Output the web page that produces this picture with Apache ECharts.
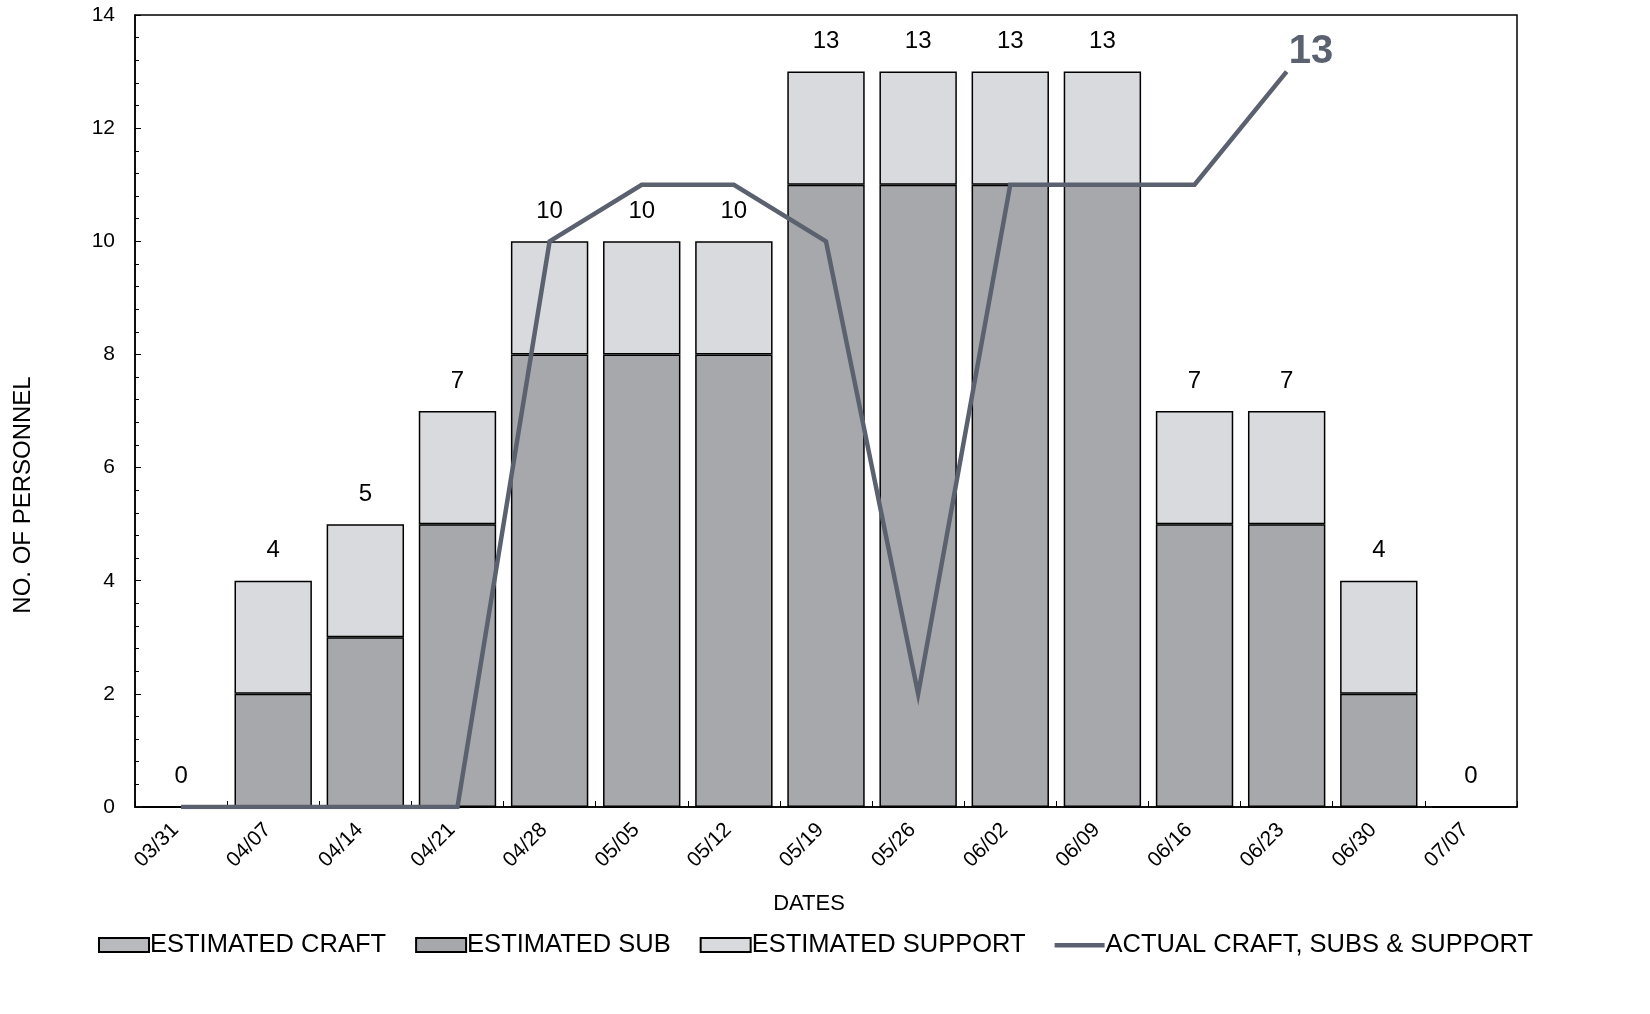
<!DOCTYPE html>
<html>
<head>
<meta charset="utf-8">
<script src="https://cdn.jsdelivr.net/npm/echarts@6/dist/echarts.min.js"></script>
<style>html,body{margin:0;padding:0;background:#fff;}#c{width:1650px;height:1014px;}</style>
</head>
<body>
<div id="c"></div>
<script>
const dates = ['03/31','04/07','04/14','04/21','04/28','05/05','05/12','05/19','05/26','06/02','06/09','06/16','06/23','06/30','07/07'];
const estCraft = [0,0,0,0,0,0,0,0,0,0,0,0,0,0,0];
const estSub = [0,2,3,5,8,8,8,11,11,11,11,5,5,2,0];
const estSupport = [0,2,2,2,2,2,2,2,2,2,2,2,2,2,0];
const actual = [0,0,0,0,10,11,11,10,2,11,11,11,13,null,null];
const yTicks = [0,2,4,6,8,10,12,14];

const totals = dates.map((d,i)=>estCraft[i]+estSub[i]+estSupport[i]);
const FONT = 'Liberation Sans, Arial, sans-serif';
const LINE_COLOR = '#5b616e';

const chart = echarts.init(document.getElementById('c'));
chart.setOption({
  backgroundColor: '#ffffff',
  animation: false,
  textStyle: {fontFamily: FONT, color: '#000'},
  grid: {left: 135, right: 133, top: 15, bottom: 207, show: true, borderColor: '#000', borderWidth: 1.5, backgroundColor: 'transparent'},
  legend: {
    bottom: 51, left: 93, itemWidth: 50, itemHeight: 14, itemGap: 29,
    textStyle: {fontSize: 25.5, fontFamily: FONT, color: '#000', padding: [0,0,0,-4]},
    data: [
      {name: 'ESTIMATED CRAFT', icon: 'rect'},
      {name: 'ESTIMATED SUB', icon: 'rect'},
      {name: 'ESTIMATED SUPPORT', icon: 'rect'},
      {name: 'ACTUAL CRAFT, SUBS & SUPPORT', icon: 'path://M0,0 M0,5 L50,5 L50,9.5 L0,9.5 Z M50,14', itemStyle: {borderWidth: 0}}
    ]
  },
  xAxis: {
    type: 'category', data: dates,
    name: 'DATES', nameLocation: 'middle', nameGap: 86,
    nameTextStyle: {fontSize: 22, fontFamily: FONT, color: '#000', padding: [0, 34, 0, 0]},
    axisLine: {lineStyle: {color: '#000', width: 1.5}},
    axisTick: {show: true, inside: true, length: 6, lineStyle: {color: '#000'}},
    axisLabel: {rotate: 45, fontSize: 21, color: '#000', margin: 14, fontFamily: FONT, padding: [0, 8, 0, 0]},
    splitLine: {show: false}
  },
  yAxis: {
    type: 'value', min: 0, max: 14, interval: 2,
    name: 'NO. OF PERSONNEL', nameLocation: 'middle', nameGap: 100,
    nameTextStyle: {fontSize: 24, fontFamily: FONT, color: '#000', padding: [0, 168, 0, 0]},
    axisLine: {show: true, lineStyle: {color: '#000', width: 1.5}},
    axisTick: {show: true, inside: true, length: 6, lineStyle: {color: '#000'}},
    minorTick: {show: true, splitNumber: 5, length: 4, lineStyle: {color: '#000'}},
    axisLabel: {fontSize: 21, color: '#000', margin: 20, fontFamily: FONT,
      formatter: v => yTicks.includes(v) ? String(v) : ''},
    splitLine: {show: false}
  },
  series: [
    {name: 'ESTIMATED CRAFT', type: 'bar', stack: 'est', data: estCraft, barCategoryGap: '16%',
      itemStyle: {color: '#b9babd', borderColor: '#000', borderWidth: 1.5}},
    {name: 'ESTIMATED SUB', type: 'bar', stack: 'est', data: estSub, barCategoryGap: '16%',
      itemStyle: {color: '#a7a8ab', borderColor: '#000', borderWidth: 1.5}},
    {name: 'ESTIMATED SUPPORT', type: 'bar', stack: 'est', data: estSupport, barCategoryGap: '16%',
      itemStyle: {color: '#d8dadd', borderColor: '#000', borderWidth: 1.5},
      label: {show: true, position: 'top', distance: 18, fontSize: 24, color: '#000', fontFamily: FONT,
        formatter: p => String(totals[p.dataIndex])}},
    {name: 'ACTUAL CRAFT, SUBS & SUPPORT', type: 'line', data: actual,
      symbol: 'none', connectNulls: false, z: 5,
      lineStyle: {color: LINE_COLOR, width: 4.5, join: 'miter'},
      itemStyle: {color: LINE_COLOR},
      endLabel: {show: true, offset: [-6, -20], fontSize: 40, fontWeight: 'bold', color: LINE_COLOR, fontFamily: FONT,
        formatter: p => String(p.value)}}
  ]
});
</script>
</body>
</html>
